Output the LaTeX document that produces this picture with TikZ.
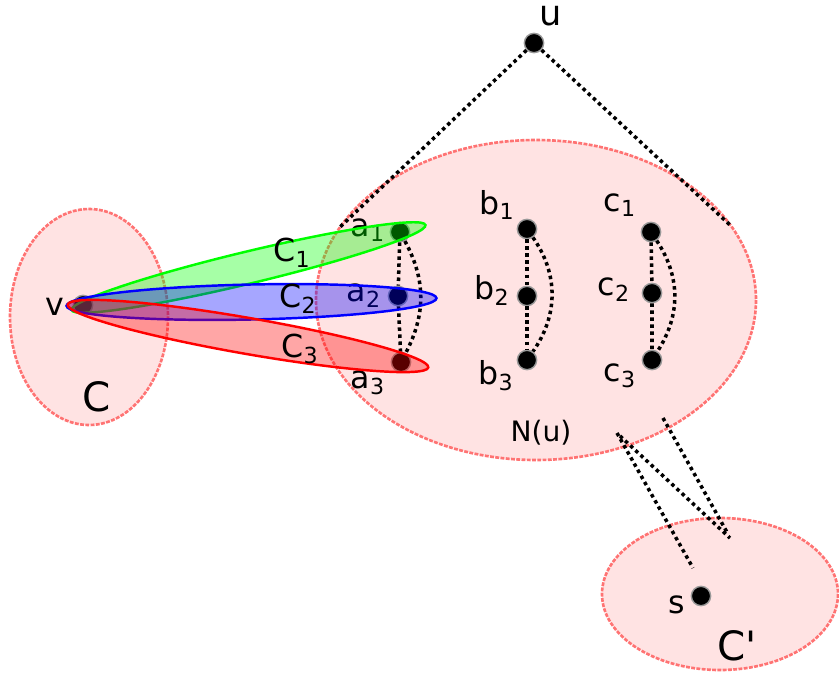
\documentclass[tikz,border=0pt]{standalone}
\usepackage{fontspec}
\setmainfont{DejaVu Sans}
\tikzset{
    vertex-dot/.style = {circle, fill=black, draw=black!40, line width=0.8pt, inner sep=0pt, minimum size=11pt},
    part-set/.style = {draw=red!55, fill=red!11, line width=1.5pt, dash pattern=on 2.2pt off 0.8pt},
    dotted-edge/.style = {line width=2pt, dash pattern=on 2pt off 2pt},
    vertex-label/.style = {inner sep=0pt, font=\fontsize{18}{20}\selectfont},
    set-label/.style = {inner sep=0pt, font=\fontsize{23}{25}\selectfont},
    hyper-edge/.style = {line width=1.4pt, fill opacity=0.35},
}

\begin{document}
\begin{tikzpicture}[x=0.02cm, y=-0.02cm]
\useasboundingbox (0,0) rectangle (839,673);

% the three sets
\draw[part-set] (536,300) ellipse [x radius=220, y radius=160];
\draw[part-set] (89,317) ellipse [x radius=79, y radius=108];
\draw[part-set] (720,594) ellipse [x radius=118, y radius=76];

\node[set-label] (C) at (97,397) {C};
\node[set-label] (Cp) at (737,646) {C\textquotesingle};
\node[inner sep=0pt, font=\fontsize{16}{18}\selectfont] (Nu) at (541,433) {N(u)};

% vertices
\node[vertex-dot] (u) at (534,43) {};
\node[vertex-dot] (v) at (83,305) {};
\node[vertex-dot] (s) at (701,596) {};
\node[vertex-dot] (a1) at (400,232) {};
\node[vertex-dot] (a2) at (398,296) {};
\node[vertex-dot] (a3) at (401,362) {};
\node[vertex-dot] (b1) at (527,229) {};
\node[vertex-dot] (b2) at (527,296) {};
\node[vertex-dot] (b3) at (527,360) {};
\node[vertex-dot] (c1) at (651,232) {};
\node[vertex-dot] (c2) at (652,293) {};
\node[vertex-dot] (c3) at (652,360) {};

\node[vertex-label, font=\fontsize{20}{22}\selectfont, anchor=base] (u-lab) at (551,25) {u};
\node[vertex-label] (v-lab) at (55,307) {v};
\node[vertex-label] (s-lab) at (677,605) {s};
\node[vertex-label] (a1-lab) at (368,230) {a\textsubscript{1}};
\node[vertex-label] (a2-lab) at (364,296) {a\textsubscript{2}};
\node[vertex-label] (a3-lab) at (368,383) {a\textsubscript{3}};
\node[vertex-label] (b1-lab) at (497,205) {b\textsubscript{1}};
\node[vertex-label] (b2-lab) at (492,290) {b\textsubscript{2}};
\node[vertex-label] (b3-lab) at (496,376) {b\textsubscript{3}};
\node[vertex-label] (c1-lab) at (620,205) {c\textsubscript{1}};
\node[vertex-label] (c2-lab) at (614,290) {c\textsubscript{2}};
\node[vertex-label] (c3-lab) at (620,376) {c\textsubscript{3}};

% dotted edges
\coordinate (nl) at (340,227);
\coordinate (nr) at (730,225);
\coordinate (d1) at (617,433);
\coordinate (d2) at (620,436);
\coordinate (d3) at (663,418);
\coordinate (e1) at (693,568);
\coordinate (e2) at (730,538);
\coordinate (e3) at (728,534);
\draw[dotted-edge] (u) -- (nl);
\draw[dotted-edge] (u) -- (nr);
\draw[dotted-edge] (d1) -- (e1);
\draw[dotted-edge] (d2) -- (e2);
\draw[dotted-edge] (d3) -- (e3);
\foreach \x/\b in {a/28,b/35,c/33} {
    \draw[dotted-edge] (\x1) -- (\x2) -- (\x3);
    \draw[dotted-edge] (\x1) to[bend left=\b] (\x3);
}

% hyperedges through v
\draw[hyper-edge, draw=green, fill=green, rotate around={13.5:(248.5,267.5)}]
    (248.5,267.5) ellipse [x radius=182, y radius=16];
\draw[hyper-edge, draw=blue, fill=blue, rotate around={1.2:(251.5,302)}]
    (251.5,302) ellipse [x radius=185, y radius=17.5];
\draw[hyper-edge, draw=red, fill=red, rotate around={-9.9:(248,336)}]
    (248,336) ellipse [x radius=183, y radius=18];

\node[vertex-label] (C1) at (292,253) {C\textsubscript{1}};
\node[vertex-label] (C2) at (298,299) {C\textsubscript{2}};
\node[vertex-label] (C3) at (300,349) {C\textsubscript{3}};
\end{tikzpicture}
\end{document}
